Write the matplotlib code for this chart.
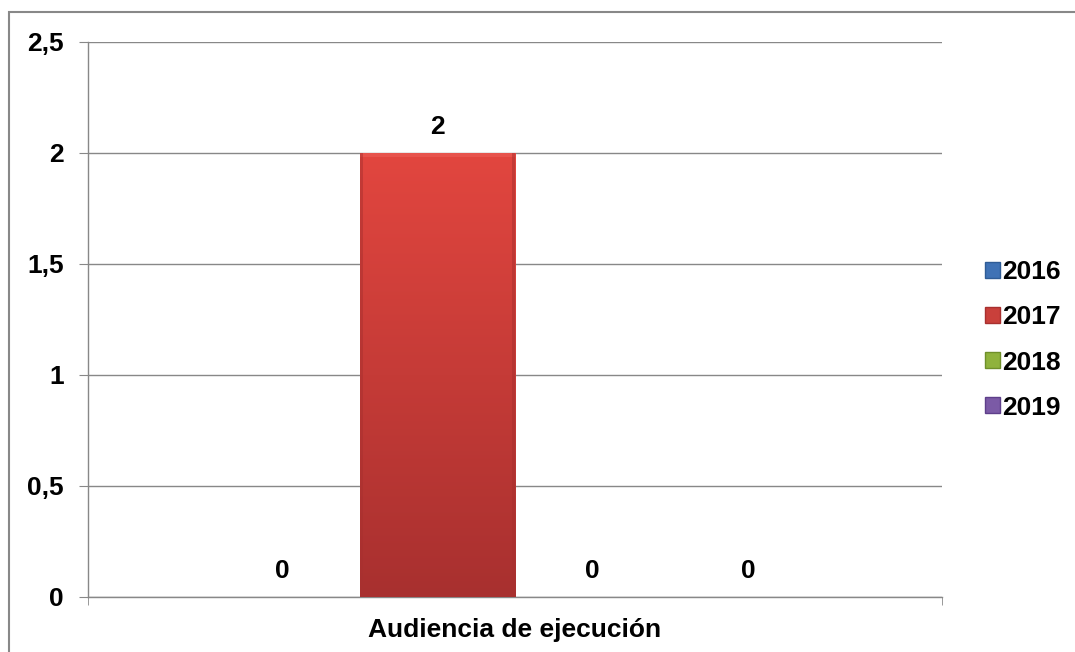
import numpy as np
import matplotlib.pyplot as plt
from matplotlib.colors import LinearSegmentedColormap
from matplotlib.patches import Rectangle, Patch

plt.rcParams['font.family'] = ['Liberation Sans', 'DejaVu Sans']

category = "Audiencia de ejecución"
years = ["2016", "2017", "2018", "2019"]
values = [0, 2, 0, 0]
colors = ["#3f72b5", "#c9403b", "#8fb23c", "#7b5aa6"]
# light (top) and dark (bottom) shades used for the bar gradient
shades = [("#5b8fd1", "#2f5c96"), ("#e2463f", "#a8302f"),
          ("#a9cc52", "#6f8f2a"), ("#9a7cc4", "#5e3f8a")]

yticks = [0, 0.5, 1, 1.5, 2, 2.5]
ytick_labels = ["0", "0,5", "1", "1,5", "2", "2,5"]

FS = 19

fig = plt.figure(figsize=(10.75, 6.52), dpi=100)
ax = fig.add_axes([0.0819, 0.0844, 0.7944, 0.8512])

width = 0.182
offsets = (np.arange(len(years)) - 1.5) * width

bars = ax.bar(offsets, values, width=width, color=colors, zorder=3,
              edgecolor="none")

# vertical gradient on each bar, clipped to the bar outline
for bar, (light, dark), val in zip(bars, shades, values):
    if val <= 0:
        continue
    cmap = LinearSegmentedColormap.from_list("g", [dark, light])
    x0 = bar.get_x()
    x1 = x0 + bar.get_width()
    grad = np.linspace(0, 1, 256).reshape(-1, 1)
    im = ax.imshow(grad, cmap=cmap, origin="lower", aspect="auto",
                   extent=(x0, x1, 0, val), zorder=3.5)
    im.set_clip_path(bar)
    # bevel highlight along the top and soft dark sides
    ax.add_patch(Rectangle((x0, val * 0.99), x1 - x0, val * 0.01,
                           color="#ea5a52", alpha=0.7, zorder=4, lw=0))
    ax.add_patch(Rectangle((x0, 0), (x1 - x0) * 0.02, val,
                           color=dark, alpha=0.5, zorder=4, lw=0))
    ax.add_patch(Rectangle((x1 - (x1 - x0) * 0.02, 0), (x1 - x0) * 0.02, val,
                           color=dark, alpha=0.5, zorder=4, lw=0))

for x, v in zip(offsets, values):
    ax.annotate(str(v), (x, v), xytext=(0, 19), textcoords="offset points",
                ha="center", va="center", fontsize=FS, fontweight="bold",
                zorder=5)

ax.set_xlim(-0.5, 0.5)
ax.set_ylim(0, 2.5)
ax.set_yticks(yticks)
ax.set_yticklabels(ytick_labels, fontsize=FS, fontweight="bold")
ax.set_xticks([0])
ax.set_xticklabels([category], fontsize=FS, fontweight="bold")
ax.set_xticks([-0.5, 0.5], minor=True)
ax.tick_params(axis="x", which="major", length=0, pad=15)
ax.tick_params(axis="x", which="minor", length=6, color="#888888")
ax.tick_params(axis="y", length=6.5, color="#888888", pad=11)

ax.yaxis.grid(True, color="#888888", linewidth=1.0, zorder=0)
ax.set_axisbelow(True)
for side in ["top", "right"]:
    ax.spines[side].set_visible(False)
for side in ["left", "bottom"]:
    ax.spines[side].set_color("#888888")
    ax.spines[side].set_linewidth(1.0)

handles = [Patch(facecolor=c, edgecolor=d, label=y)
           for c, (_, d), y in zip(colors, shades, years)]
ax.legend(handles=handles, loc="center left",
          bbox_to_anchor=(1.035, 0.463), frameon=False,
          prop={"size": FS, "weight": "bold"},
          handlelength=0.55, handleheight=0.55, handletextpad=0.1,
          labelspacing=0.8, borderpad=0)

# outer chart frame
fig.patches.append(Rectangle((9 / 1075, -0.05), 1.1, 1 - 12 / 652 + 0.05,
                             transform=fig.transFigure, fill=False,
                             edgecolor="#888888", linewidth=1.5))

fig.savefig("out.png", dpi=100)
